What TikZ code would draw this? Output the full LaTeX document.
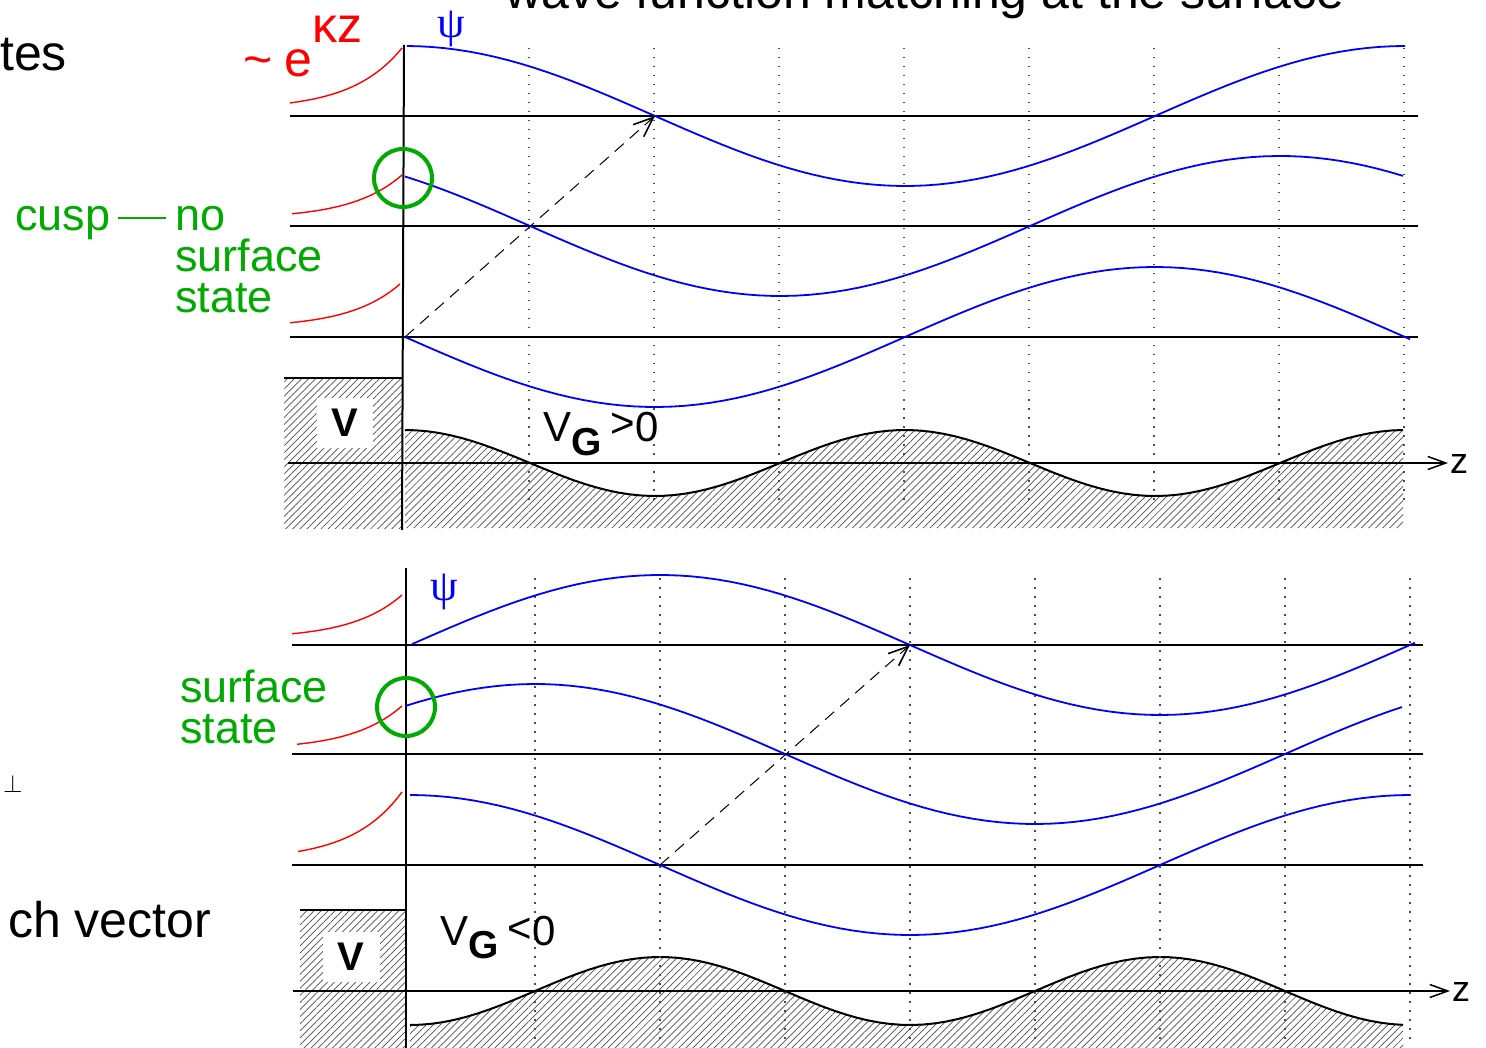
\documentclass[tikz,border=0pt]{standalone}
\usepackage{fontspec}
\setmainfont{Liberation Sans}
\newfontfamily\greekfont{Liberation Serif}
\usetikzlibrary{arrows.meta,patterns.meta}
\definecolor{psiblue}{RGB}{0,0,255}
\definecolor{tailred}{RGB}{255,0,0}
\definecolor{cuspgreen}{RGB}{0,170,0}
\newcommand{\fsz}[2]{\fontsize{#1}{#2}\selectfont}

\begin{document}
\begin{tikzpicture}[x=1pt, y=-1pt,
    declare function={
      cw(\x,\p)=cos(((\x-\p)/1000)*360);
      sw(\x,\p)=sin(((\x-\p)/1000)*360);
      cv(\x,\p)=cos(((\x-\p)/500)*360);
      tail(\x,\e)=exp((\x-\e)/50);
    },
    level/.style={line width=2pt},
    zaxis/.style={line width=2pt, -{Straight Barb[length=18pt, width=13pt, line width=1.5pt]}},
    surf/.style={line width=2pt},
    gridline/.style={line width=1.5pt, black!70, dash pattern=on 1.5pt off 7.5pt},
    wave/.style={line width=1.8pt, psiblue, line join=round},
    tailcurve/.style={line width=1.4pt, tailred},
    ring/.style={line width=4pt, cuspgreen},
    hatch/.style={pattern={Lines[angle=45, distance=5pt, line width=0.7pt]}, pattern color=black!70},
    pot/.style={line width=2pt},
    kshift/.style={line width=1pt, dash pattern=on 12pt off 8pt, -{Straight Barb[length=20pt, width=16pt, line width=1.6pt]}},
    lbl/.style={inner sep=0pt, anchor=base west},
    greentxt/.style={lbl, text=cuspgreen, align=left, font=\fsz{45}{41}},
    vbox/.style={fill=white, inner sep=0pt, font=\fsz{40}{40}\bfseries},
]
    \useasboundingbox (0,0) rectangle (1486,1048);
    \clip (0,0) rectangle (1486,1048);

    % title and cut-off labels
    \node[lbl, anchor=base] (title) at (925,9) {\fsz{50}{50}wave function matching at the surface};
    \node[lbl] (tes) at (0,71) {\fsz{50}{50}tes};
    \node[lbl] (perp) at (3,792) {\fsz{30}{30}$\perp$};
    \node[lbl] (bloch) at (8,937) {\fsz{50}{50}ch vector};

    % upper panel, V_G > 0
    \fill[hatch] (284,378) rectangle (402,528);
    \fill[hatch] (405,528) -- plot[domain=405:1403, samples=90] (\x,{463-33*cv(\x,405)}) -- (1403,528) -- cycle;
    \draw[pot] plot[domain=405:1403, samples=90] (\x,{463-33*cv(\x,405)});
    \draw[level] (284,378) -- (402,378);
    \foreach \gx in {529,654,...,1404}
        \draw[gridline] (\gx,48) -- (\gx,500);
    \foreach \ly in {116,226,337}
        \draw[level] (290,\ly) -- (1418,\ly);
    \draw[zaxis] (288,463) -- (1448,463);
    \node[lbl] (ztop) at (1450,473) {\fsz{36}{36}z};
    \draw[surf] (404,45) -- (402,530);

    \draw[wave] plot[domain=407:1405, samples=80] (\x,{116-70*cw(\x,405)});
    \draw[wave] plot[domain=405:1403, samples=80] (\x,{226+70*cw(\x,780)});
    \draw[wave] plot[domain=405:1410, samples=80] (\x,{337+70*sw(\x,405)});
    \draw[tailcurve] plot[domain=290:402, samples=30] (\x,{109.5-61.5*tail(\x,402)});
    \draw[tailcurve] plot[domain=292:402, samples=30] (\x,{218.6-43.6*tail(\x,402)});
    \draw[tailcurve] plot[domain=290:400, samples=30] (\x,{327.6-43.6*tail(\x,400)});
    \draw[ring] (403,178) circle[radius=29pt];

    \coordinate (ktail1) at (405,337);
    \coordinate (khead1) at (655,116);
    \draw[kshift] (ktail1) -- (khead1);

    \node[vbox, minimum width=56pt, minimum height=50pt] (vtop) at (345,423) {V};
    \node[lbl, text=tailred] (expo) at (243,77) {\fsz{50}{50}\textasciitilde\hspace{12pt}e\raisebox{34pt}{κz}};
    \node[lbl, text=psiblue] (psitop) at (437,38) {\greekfont\fsz{44}{44}ψ};
    \node[lbl] (vgpos) at (543,441) {\fsz{42}{42}V\raisebox{-14pt}{\fsz{39}{39}\bfseries G}\hspace{9pt}\raisebox{3pt}{>}0};
    \node[greentxt] (cusp) at (15,231) {cusp};
    \node[greentxt] (nosurf) at (175,313) {no\\surface\\state};
    \draw[cuspgreen, line width=1.2pt] ([xshift=8pt, yshift=13pt]cusp.base east) -- ([xshift=-9pt, yshift=13pt]cusp.base east -| nosurf.west);

    % lower panel, V_G < 0
    \fill[hatch] (300,910) rectangle (406,1048);
    \fill[hatch] (410,1048) -- plot[domain=410:1403, samples=90] (\x,{991+34*cv(\x,410)}) -- (1403,1048) -- cycle;
    \draw[pot] plot[domain=410:1403, samples=90] (\x,{991+34*cv(\x,410)});
    \draw[level] (300,910) -- (406,910);
    \foreach \gx in {535,660,...,1410}
        \draw[gridline] (\gx,578) -- (\gx,1040);
    \foreach \ly in {645,754,865}
        \draw[level] (292,\ly) -- (1423,\ly);
    \draw[zaxis] (293,991) -- (1450,991);
    \node[lbl] (zbot) at (1452,1001) {\fsz{36}{36}z};
    \draw[surf] (406,568) -- (406,1048);

    \draw[wave] plot[domain=412:1415, samples=80] (\x,{645-70*sw(\x,410)});
    \draw[wave] plot[domain=406:1402, samples=80] (\x,{754-70*cw(\x,535)});
    \draw[wave] plot[domain=410:1410, samples=80] (\x,{865-70*cw(\x,410)});
    \draw[tailcurve] plot[domain=292:402, samples=30] (\x,{638.6-43.6*tail(\x,402)});
    \draw[tailcurve] plot[domain=297:402, samples=30] (\x,{749.6-43.6*tail(\x,402)});
    \draw[tailcurve] plot[domain=298:402, samples=30] (\x,{860-68*tail(\x,402)});
    \draw[ring] (406,707) circle[radius=29pt];

    \coordinate (ktail2) at (660,865);
    \coordinate (khead2) at (910,645);
    \draw[kshift] (ktail2) -- (khead2);

    \node[vbox, minimum width=57pt, minimum height=50pt] (vbot) at (351,957) {V};
    \node[lbl, text=psiblue] (psibot) at (430,600) {\greekfont\fsz{44}{44}ψ};
    \node[lbl] (vgneg) at (440,945) {\fsz{42}{42}V\raisebox{-13pt}{\fsz{39}{39}\bfseries G}\hspace{9pt}\raisebox{3pt}{<}0};
    \node[greentxt] (surfst) at (180,743) {surface\\state};
\end{tikzpicture}
\end{document}
